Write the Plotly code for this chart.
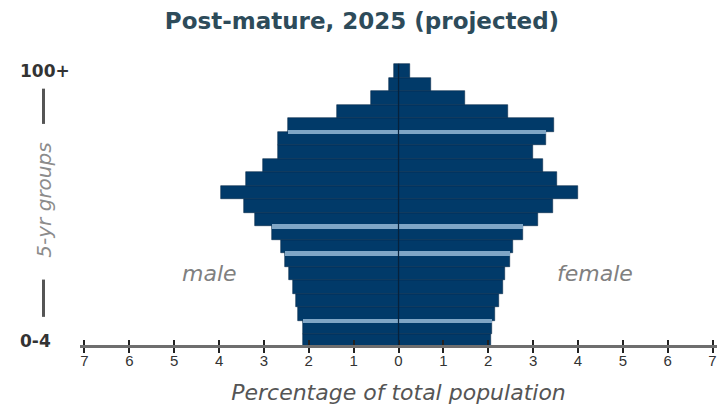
import plotly.graph_objects as go

# ---- data (bottom to top) ----
age_groups = ["0-4", "5-9", "10-14", "15-19", "20-24", "25-29", "30-34", "35-39",
              "40-44", "45-49", "50-54", "55-59", "60-64", "65-69", "70-74",
              "75-79", "80-84", "85-89", "90-94", "95-99", "100+"]
male = [2.12, 2.14, 2.23, 2.29, 2.36, 2.45, 2.52, 2.63, 2.81, 3.20, 3.44, 3.96,
        3.41, 3.01, 2.68, 2.68, 2.46, 1.38, 0.62, 0.22, 0.09]
female = [2.07, 2.09, 2.16, 2.25, 2.32, 2.38, 2.49, 2.56, 2.78, 3.12, 3.45, 4.01,
          3.54, 3.23, 3.00, 3.28, 3.46, 2.45, 1.49, 0.73, 0.25]
# groups whose top edge shows a light separator line
separator_groups = ["5-9", "30-34", "40-44", "75-79"]
tick_values = [-7, -6, -5, -4, -3, -2, -1, 0, 1, 2, 3, 4, 5, 6, 7]
tick_labels = ["7", "6", "5", "4", "3", "2", "1", "0", "1", "2", "3", "4", "5", "6", "7"]

BAR = "#013a69"
EDGE = "#0a2b4c"
SEP = "#7fa6c6"

ypos = list(range(len(age_groups)))

fig = go.Figure()
fig.add_trace(go.Bar(y=ypos, x=[-v for v in male], orientation="h", width=1,
                     marker=dict(color=BAR, line=dict(color=EDGE, width=0.6)),
                     name="male", showlegend=False, hoverinfo="skip"))
fig.add_trace(go.Bar(y=ypos, x=female, orientation="h", width=1,
                     marker=dict(color=BAR, line=dict(color=EDGE, width=0.6)),
                     name="female", showlegend=False, hoverinfo="skip"))

sep_y, sep_m, sep_f = [], [], []
for g in separator_groups:
    i = age_groups.index(g)
    sep_y.append(i + 0.5)
    sep_m.append(-min(male[i], male[i + 1]))
    sep_f.append(min(female[i], female[i + 1]))
for xs in (sep_m, sep_f):
    fig.add_trace(go.Bar(y=sep_y, x=xs, orientation="h", width=0.34,
                         marker=dict(color=SEP, line=dict(width=0)),
                         showlegend=False, hoverinfo="skip"))

# invisible trace to carry the second (tick-only) x axis
fig.add_trace(go.Scatter(x=[0], y=[0], xaxis="x2", mode="markers",
                         marker=dict(opacity=0), showlegend=False, hoverinfo="skip"))

xr = [-7.1, 7.1]
fig.update_layout(
    width=724, height=409,
    margin=dict(l=80, r=7, t=63, b=64),
    paper_bgcolor="white", plot_bgcolor="white",
    barmode="overlay", bargap=0,
    title=dict(text="Post-mature, 2025 (projected)", x=0.5, xanchor="center",
               y=1 - 21 / 409, yanchor="middle", yref="container",
               font=dict(family="DejaVu Sans", size=23, color="#2d4b5a", weight="bold")),
    xaxis=dict(range=xr, tickvals=tick_values, ticktext=tick_labels,
               ticks="outside", ticklen=5, tickwidth=2, tickcolor="#222",
               ticklabelstandoff=-5,
               showline=True, linecolor="#6e6e6e", linewidth=3,
               showgrid=False, zeroline=False, layer="above traces",
               tickfont=dict(family="Liberation Sans Narrow, Liberation Sans", size=15, color="#333"),
               title=dict(text="Percentage of total population", standoff=17,
                          font=dict(family="DejaVu Sans", size=22, color="#555", style="italic"))),
    xaxis2=dict(range=xr, overlaying="x", anchor="y", side="bottom",
                tickvals=tick_values, ticks="inside", ticklen=5, tickwidth=2,
                tickcolor="#222", showticklabels=False, showline=False,
                showgrid=False, zeroline=False),
    yaxis=dict(range=[-0.278, 20.6], showticklabels=False, ticks="",
               showgrid=False, zeroline=False, showline=False),
)

# vertical centre line through the bars
fig.add_shape(type="line", x0=0, x1=0, y0=-0.5, y1=len(age_groups) - 0.5,
              xref="x", yref="y", line=dict(color="#06223d", width=1.2), layer="above")

# age labels at the ends
for g in (age_groups[-1], age_groups[0]):
    fig.add_annotation(text=g, x=0, xref="paper", xanchor="left", xshift=-62,
                       y=age_groups.index(g), yref="y", showarrow=False,
                       font=dict(family="DejaVu Sans", size=17, color="#333", weight="bold"))

# rotated axis label with bars
fig.add_annotation(text="5-yr groups", textangle=-90, x=-0.056, xref="paper",
                   xanchor="center", yanchor="middle",
                   y=0.513, yref="paper", showarrow=False,
                   font=dict(family="DejaVu Sans", size=20, color="#8c8c8c", style="italic"))
for y0, y1 in ((0.784, 0.909), (0.0998, 0.232)):
    fig.add_shape(type="line", x0=-0.0573, x1=-0.0573, y0=y0, y1=y1,
                  xref="paper", yref="paper", line=dict(color="#555", width=3))

fig.add_annotation(text="male", x=-4.22, xref="x", y=5.0, yref="y", showarrow=False,
                   font=dict(family="DejaVu Sans", size=22, color="#808080", style="italic"))
fig.add_annotation(text="female", x=4.38, xref="x", y=5.0, yref="y", showarrow=False,
                   font=dict(family="DejaVu Sans", size=22, color="#808080", style="italic"))

fig.write_html("out.html", config={"displayModeBar": False},
               post_script="document.body.style.margin='0';")
